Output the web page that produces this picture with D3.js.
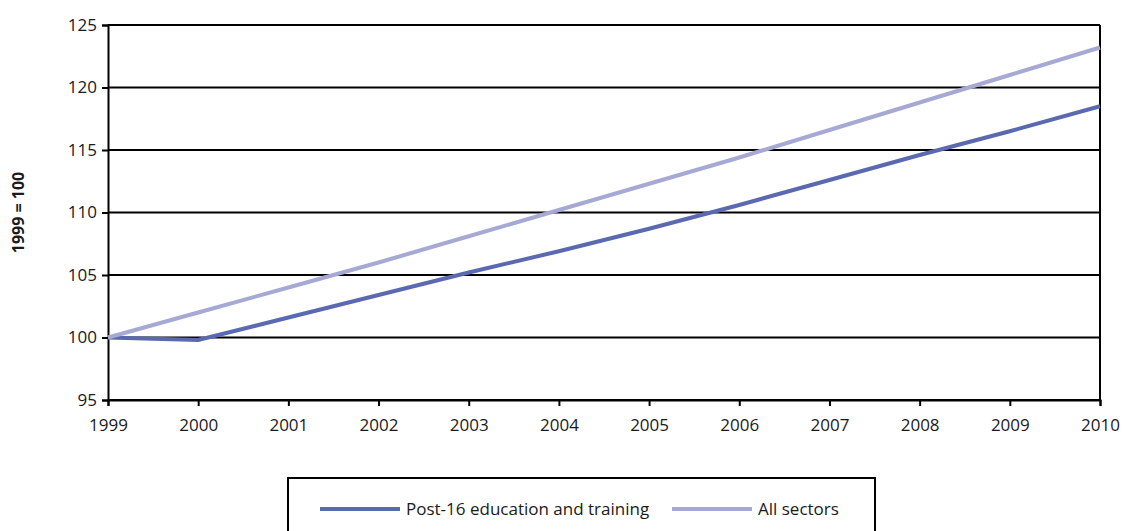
<!DOCTYPE html>
<html><head><meta charset="utf-8">
<script src="https://cdn.jsdelivr.net/npm/d3@7"></script>
<style>body{margin:0;background:#fff;} svg{display:block;font-family:"Open Sans",sans-serif;}</style>
</head><body><svg id="c" width="1125" height="531"></svg>
<script>
const years = [1999,2000,2001,2002,2003,2004,2005,2006,2007,2008,2009,2010];
const post16 = [100,99.8,101.6,103.4,105.2,106.9,108.7,110.6,112.6,114.6,116.5,118.5];
const allSectors = [100,102.0,104.0,106.0,108.1,110.2,112.3,114.4,116.6,118.8,121.0,123.2];
const yTicks = [95,100,105,110,115,120,125];
const seriesNames = ["Post-16 education and training","All sectors"];
const colors = ["#5b69b0","#a7a9d5"];
const yLabel = "1999 = 100";

const svg = d3.select("#c");
const m = {l:108,r:1100,t:25,b:400};
const x = d3.scaleLinear().domain([1999,2010]).range([m.l,m.r]);
const y = d3.scaleLinear().domain([95,125]).range([m.b,m.t]);

svg.append("g").selectAll("line").data(yTicks).join("line")
  .attr("x1",m.l).attr("x2",m.r).attr("y1",d=>y(d)).attr("y2",d=>y(d))
  .attr("stroke","#000").attr("stroke-width",2);
svg.append("line").attr("x1",m.r).attr("x2",m.r).attr("y1",m.t).attr("y2",m.b).attr("stroke","#000").attr("stroke-width",2);

const yAxis = svg.append("g").attr("transform",`translate(${m.l},0)`)
  .call(d3.axisLeft(y).tickValues(yTicks).tickSize(6).tickPadding(5).tickFormat(d3.format("d")));
const xAxis = svg.append("g").attr("transform",`translate(0,${m.b})`)
  .call(d3.axisBottom(x).tickValues(years).tickSize(6).tickPadding(9).tickFormat(d3.format("d")));
[yAxis,xAxis].forEach(a=>{
  a.attr("font-size",17).attr("font-family","Open Sans, sans-serif");
  a.selectAll("path,line").attr("stroke","#000").attr("stroke-width",2);
  a.selectAll("text").style("font-size","17px").attr("fill","#1a1a1a");
});
xAxis.selectAll("text").attr("dy","0.95em");

const line = d3.line().x((d,i)=>x(years[i])).y(d=>y(d));
[post16,allSectors].forEach((s,i)=>{
  svg.append("path").datum(s).attr("d",line).attr("fill","none")
    .attr("stroke",colors[i]).attr("stroke-width",4);
});

svg.append("text").attr("transform",`translate(24,${(m.t+m.b)/2}) rotate(-90)`)
  .attr("text-anchor","middle").style("font-size","16px").attr("font-weight","bold").attr("fill","#1a1a1a").text(yLabel);

const lg = svg.append("g");
lg.append("rect").attr("x",288).attr("y",478).attr("width",587).attr("height",70)
  .attr("fill","#fff").attr("stroke","#000").attr("stroke-width",2);
const lx = [320,672];
seriesNames.forEach((n,i)=>{
  lg.append("line").attr("x1",lx[i]).attr("x2",lx[i]+80).attr("y1",509).attr("y2",509)
    .attr("stroke",colors[i]).attr("stroke-width",4);
  lg.append("text").attr("x",lx[i]+86).attr("y",515).style("font-size","17px").attr("fill","#1a1a1a").text(n);
});
</script></body></html>
